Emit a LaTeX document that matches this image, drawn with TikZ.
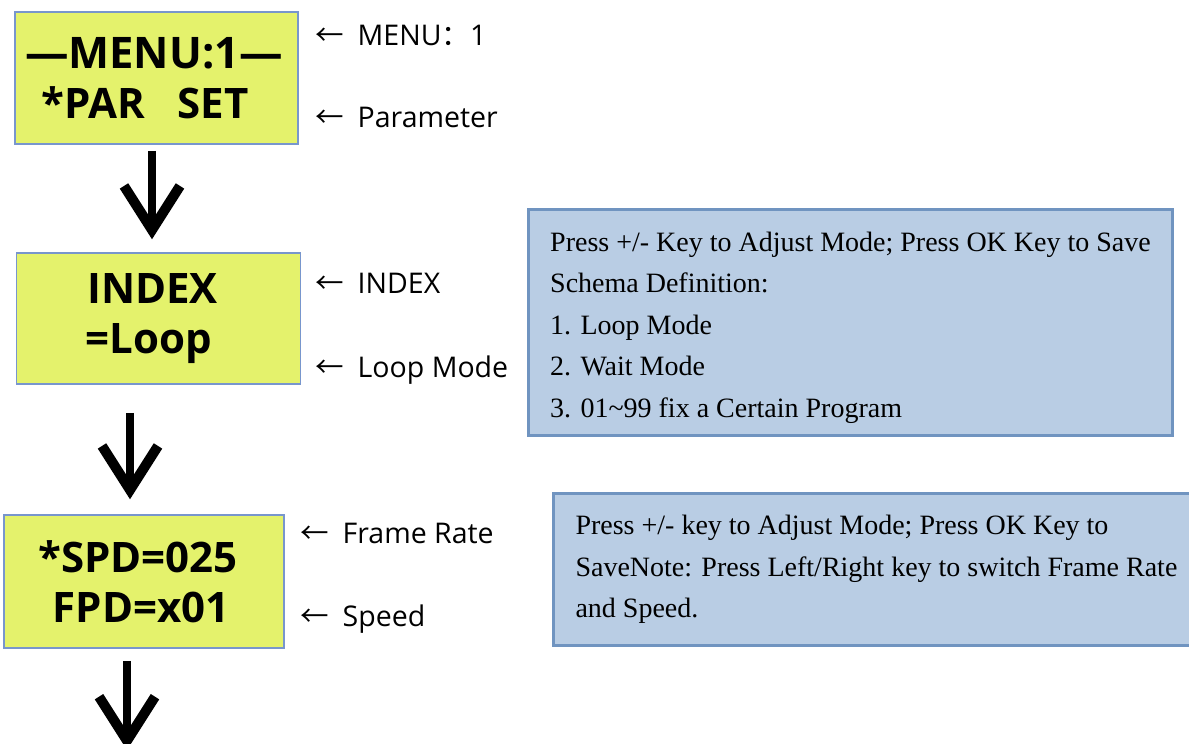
\documentclass[tikz,border=0pt]{standalone}
\usepackage{fontspec}
\setmainfont{Liberation Serif}
\newfontfamily\lcdfont{Open Sans}
\newfontfamily\tagfont{Open Sans}
\newfontfamily\cjk{Noto Sans CJK SC}
\usetikzlibrary{arrows.meta}

\definecolor{lcdyellow}{RGB}{228,242,108}
\definecolor{lcdedge}{RGB}{120,150,205}
\definecolor{notefill}{RGB}{185,205,228}
\definecolor{noteedge}{RGB}{112,148,192}

\tikzset{
  lcd/.style={draw=lcdedge, line width=1.5pt, fill=lcdyellow, align=center, inner sep=0pt,
    font=\lcdfont\bfseries\fontsize{42}{50}\selectfont},
  note/.style={draw=noteedge, line width=3pt, fill=notefill, align=left, inner sep=0pt,
    font=\fontsize{28}{41.5}\selectfont},
  tag/.style={anchor=base west, inner sep=0pt, font=\tagfont\fontsize{28.5}{28.5}\selectfont},
  brush/.style={line width=8pt, -{Straight Barb[length=44pt,width=56pt,line width=10pt]}},
}
\newcommand{\larr}{{\cjk ←}\hspace{14pt}}

\begin{document}
\begin{tikzpicture}[x=1pt,y=-1pt]
\useasboundingbox (0,0) rectangle (1189,744);
\clip (0,0) rectangle (1189,744);

\node[lcd, minimum width=283pt, minimum height=132pt] (menu) at (156.5,78) {{\fontsize{43.5}{50}\selectfont —MENU:1—}\hspace*{5pt}\\{}*PAR\ \ \ SET\hspace*{23pt}};
\node[lcd, minimum width=284pt, minimum height=131pt] (index) at (158.5,318.5) {INDEX\hspace*{12pt}\\=Loop\hspace*{20pt}};
\node[lcd, minimum width=280pt, minimum height=133pt] (spd) at (144,581.5) {*SPD=025\hspace*{12pt}\\FPD=x01\hspace*{6pt}};

\node[tag] (tmenu) at (315,45) {\larr MENU{\cjk ：}1};
\node[tag] (tpar) at (315,127) {\larr Parameter};
\node[tag] (tindex) at (315,293) {\larr INDEX};
\node[tag] (tloop) at (315,377) {\larr Loop Mode};
\node[tag] (trate) at (300,543) {\larr Frame Rate};
\node[tag] (tspeed) at (300,626) {\larr Speed};

\node[note, minimum width=644pt, minimum height=226pt, text height=196pt, anchor=north west] (modes) at (527,208)
  {Press +/- Key to Adjust Mode; Press OK Key to Save\\Schema Definition:\\1. Loop Mode\\2. Wait Mode\\3. 01\textasciitilde 99 fix a Certain Program};
\node[note, inner xsep=22pt, minimum height=152pt, anchor=north west] (rates) at (552,492)
  {Press +/- key to Adjust Mode; Press OK Key to\hspace*{200pt}\\SaveNote: Press Left/Right key to switch Frame Rate\\and Speed.};

\coordinate (down1) at ([shift={(-4.5,6)}]menu.south);
\coordinate (down2) at ([shift={(-28.5,28)}]index.south);
\coordinate (down3) at ([shift={(-17,12)}]spd.south);
\coordinate (next) at (127,750);

\draw[brush, shorten >=13pt] (down1) -- (down1 |- index.north);
\draw[brush, shorten >=15pt] (down2) -- (down2 |- spd.north);
\draw[brush] (down3) -- (next);

\end{tikzpicture}
\end{document}
